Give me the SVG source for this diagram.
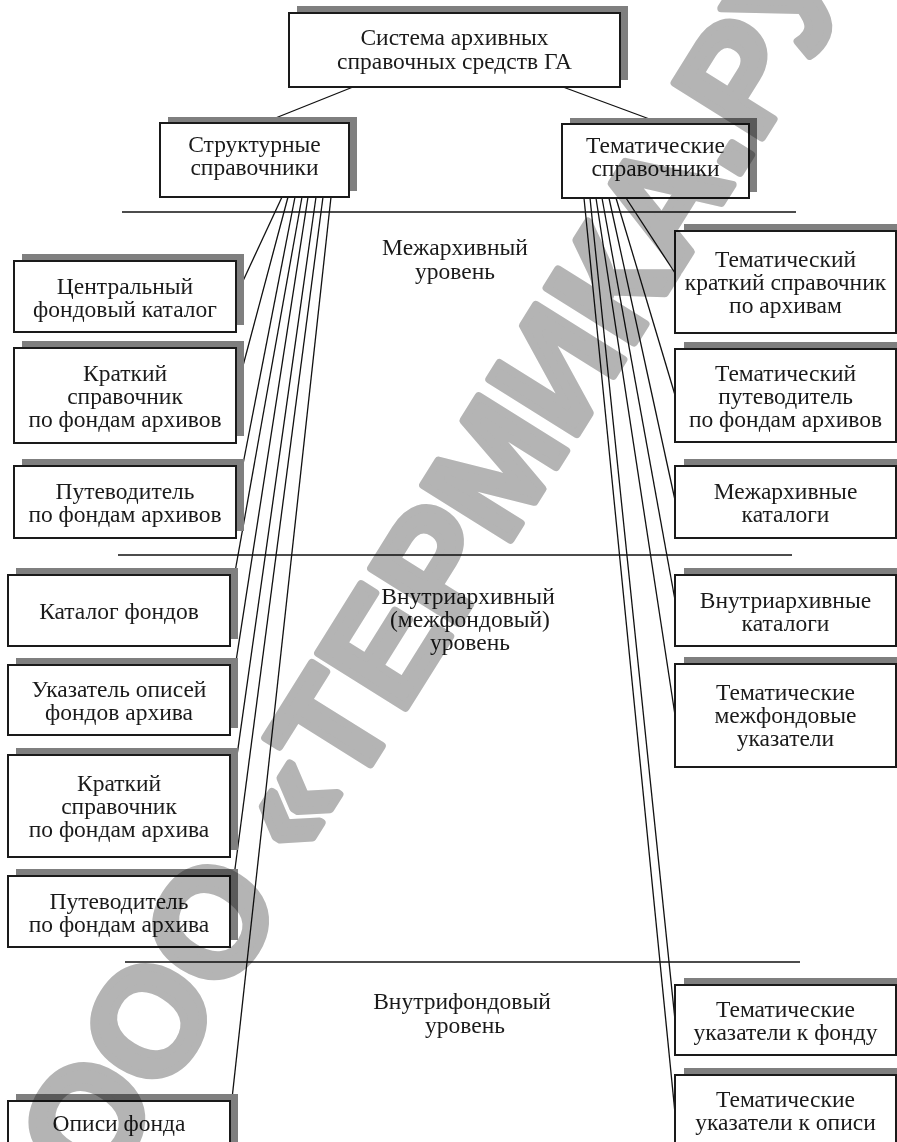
<svg xmlns="http://www.w3.org/2000/svg" width="897" height="1142" viewBox="0 0 897 1142">
  <style>
    .shadow { fill: #7f7f7f; }
    .box { fill: #ffffff; stroke: #1a1a1a; stroke-width: 2; }
    .lbl { font-family: "Liberation Serif", "Times New Roman", serif; font-size: 23.5px; fill: #1a1a1a; text-anchor: middle; }
    .conn line { stroke: #111; stroke-width: 1.3; }
    .rule { stroke: #111; stroke-width: 1.3; }
    .wm { font-family: "Liberation Sans", Arial, sans-serif; font-weight: bold; font-size: 150px; fill: #b4b4b4; stroke: #b4b4b4; stroke-width: 8; stroke-linejoin: round; }
  </style>
  <rect width="897" height="1142" fill="#ffffff"/>

  <!-- level separators -->
  <g id="levels">
    <line class="rule" x1="122" y1="212" x2="796" y2="212"/>
    <line class="rule" x1="118" y1="555" x2="792" y2="555"/>
    <line class="rule" x1="125" y1="962" x2="800" y2="962"/>
    <text class="lbl" x="455" y="255">Межархивный</text>
    <text class="lbl" x="455" y="279">уровень</text>
    <text class="lbl" x="468" y="604">Внутриархивный</text>
    <text class="lbl" x="470" y="627">(межфондовый)</text>
    <text class="lbl" x="470" y="650">уровень</text>
    <text class="lbl" x="462" y="1009">Внутрифондовый</text>
    <text class="lbl" x="465" y="1033">уровень</text>
  </g>

  <!-- connectors -->
  <g id="connectors" class="conn">
    <line x1="353" y1="87" x2="263" y2="123"/>
    <line x1="563" y1="87" x2="663" y2="124"/>
    <!-- structural fan -->
    <line x1="282" y1="197" x2="236" y2="296"/>
    <line x1="288" y1="197" x2="236" y2="392"/>
    <line x1="295" y1="197" x2="236" y2="500"/>
    <line x1="302" y1="197" x2="230" y2="600"/>
    <line x1="308" y1="197" x2="230" y2="700"/>
    <line x1="316" y1="197" x2="230" y2="805"/>
    <line x1="323" y1="197" x2="230" y2="907"/>
    <line x1="331" y1="197" x2="230" y2="1117"/>
    <!-- thematic fan -->
    <line x1="626" y1="198" x2="675" y2="273"/>
    <line x1="616" y1="198" x2="675" y2="395"/>
    <line x1="609" y1="198" x2="675" y2="500"/>
    <line x1="602" y1="198" x2="675" y2="600"/>
    <line x1="596" y1="198" x2="675" y2="715"/>
    <line x1="590" y1="198" x2="675" y2="1020"/>
    <line x1="584" y1="198" x2="675" y2="1113"/>
  </g>

  <g id="root">
    <rect class="shadow" x="297" y="6" width="331" height="74"/>
    <rect class="box" x="289" y="13" width="331" height="74"/>
    <text class="lbl" x="454.5" y="45">Система архивных</text>
    <text class="lbl" x="454.5" y="69">справочных средств ГА</text>
  </g>

  <g id="structural">
    <rect class="shadow" x="168" y="117" width="189" height="74"/>
    <rect class="box" x="160" y="123" width="189" height="74"/>
    <text class="lbl" x="254.5" y="152">Структурные</text>
    <text class="lbl" x="254.5" y="175">справочники</text>
  </g>

  <g id="thematic">
    <rect class="shadow" x="570" y="118" width="187" height="74"/>
    <rect class="box" x="562" y="124" width="187" height="74"/>
    <text class="lbl" x="655.5" y="153">Тематические</text>
    <text class="lbl" x="655.5" y="176">справочники</text>
  </g>

  <!-- left column -->
  <g id="central-catalog">
    <rect class="shadow" x="22" y="254" width="222" height="71"/>
    <rect class="box" x="14" y="261" width="222" height="71"/>
    <text class="lbl" x="125" y="294">Центральный</text>
    <text class="lbl" x="125" y="317">фондовый каталог</text>
  </g>
  <g id="short-guide-archives">
    <rect class="shadow" x="22" y="341" width="222" height="95"/>
    <rect class="box" x="14" y="348" width="222" height="95"/>
    <text class="lbl" x="125" y="381">Краткий</text>
    <text class="lbl" x="125" y="404">справочник</text>
    <text class="lbl" x="125" y="427">по фондам архивов</text>
  </g>
  <g id="guide-archives">
    <rect class="shadow" x="22" y="459" width="222" height="72"/>
    <rect class="box" x="14" y="466" width="222" height="72"/>
    <text class="lbl" x="125" y="499">Путеводитель</text>
    <text class="lbl" x="125" y="522">по фондам архивов</text>
  </g>
  <g id="fond-catalog">
    <rect class="shadow" x="16" y="568" width="222" height="71"/>
    <rect class="box" x="8" y="575" width="222" height="71"/>
    <text class="lbl" x="119" y="619">Каталог фондов</text>
  </g>
  <g id="inventory-index">
    <rect class="shadow" x="16" y="658" width="222" height="70"/>
    <rect class="box" x="8" y="665" width="222" height="70"/>
    <text class="lbl" x="119" y="697">Указатель описей</text>
    <text class="lbl" x="119" y="720">фондов архива</text>
  </g>
  <g id="short-guide-archive">
    <rect class="shadow" x="16" y="748" width="222" height="102"/>
    <rect class="box" x="8" y="755" width="222" height="102"/>
    <text class="lbl" x="119" y="791">Краткий</text>
    <text class="lbl" x="119" y="814">справочник</text>
    <text class="lbl" x="119" y="837">по фондам архива</text>
  </g>
  <g id="guide-archive">
    <rect class="shadow" x="16" y="869" width="222" height="71"/>
    <rect class="box" x="8" y="876" width="222" height="71"/>
    <text class="lbl" x="119" y="909">Путеводитель</text>
    <text class="lbl" x="119" y="932">по фондам архива</text>
  </g>
  <g id="fond-inventories">
    <rect class="shadow" x="16" y="1094" width="222" height="60"/>
    <rect class="box" x="8" y="1101" width="222" height="60"/>
    <text class="lbl" x="119" y="1131">Описи фонда</text>
  </g>

  <!-- right column -->
  <g id="thematic-short-guide">
    <rect class="shadow" x="684" y="224" width="221" height="102"/>
    <rect class="box" x="675" y="231" width="221" height="102"/>
    <text class="lbl" x="785.5" y="267">Тематический</text>
    <text class="lbl" x="785.5" y="290">краткий справочник</text>
    <text class="lbl" x="785.5" y="313">по архивам</text>
  </g>
  <g id="thematic-guide">
    <rect class="shadow" x="684" y="342" width="221" height="93"/>
    <rect class="box" x="675" y="349" width="221" height="93"/>
    <text class="lbl" x="785.5" y="381">Тематический</text>
    <text class="lbl" x="785.5" y="404">путеводитель</text>
    <text class="lbl" x="785.5" y="427">по фондам архивов</text>
  </g>
  <g id="inter-archive-catalogs">
    <rect class="shadow" x="684" y="459" width="221" height="72"/>
    <rect class="box" x="675" y="466" width="221" height="72"/>
    <text class="lbl" x="785.5" y="499">Межархивные</text>
    <text class="lbl" x="785.5" y="522">каталоги</text>
  </g>
  <g id="intra-archive-catalogs">
    <rect class="shadow" x="684" y="568" width="221" height="71"/>
    <rect class="box" x="675" y="575" width="221" height="71"/>
    <text class="lbl" x="785.5" y="608">Внутриархивные</text>
    <text class="lbl" x="785.5" y="631">каталоги</text>
  </g>
  <g id="inter-fond-indexes">
    <rect class="shadow" x="684" y="657" width="221" height="103"/>
    <rect class="box" x="675" y="664" width="221" height="103"/>
    <text class="lbl" x="785.5" y="700">Тематические</text>
    <text class="lbl" x="785.5" y="723">межфондовые</text>
    <text class="lbl" x="785.5" y="746">указатели</text>
  </g>
  <g id="fond-indexes">
    <rect class="shadow" x="684" y="978" width="221" height="70"/>
    <rect class="box" x="675" y="985" width="221" height="70"/>
    <text class="lbl" x="785.5" y="1017">Тематические</text>
    <text class="lbl" x="785.5" y="1040">указатели к фонду</text>
  </g>
  <g id="inventory-indexes">
    <rect class="shadow" x="684" y="1068" width="221" height="70"/>
    <rect class="box" x="675" y="1075" width="221" height="70"/>
    <text class="lbl" x="785.5" y="1107">Тематические</text>
    <text class="lbl" x="785.5" y="1130">указатели к описи</text>
  </g>

  <!-- publisher watermark, multiplied over the drawing -->
  <g id="watermark" style="mix-blend-mode: multiply" transform="translate(100 1197) rotate(-58)">
    <text class="wm" x="0" y="0">ООО «ТЕРМИКА.РУ»</text>
  </g>
</svg>
